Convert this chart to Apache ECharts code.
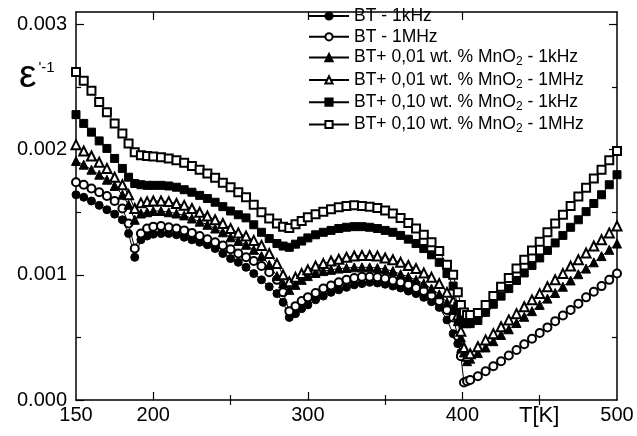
<!DOCTYPE html>
<html>
<head>
<meta charset="utf-8">
<script src="https://cdn.jsdelivr.net/npm/echarts@6/dist/echarts.min.js"></script>
<style>
  html, body { margin: 0; padding: 0; background: #fff; }
  #chart { width: 637px; height: 436px; }
</style>
</head>
<body>
<div id="chart"></div>
<script>
// temperature, K
const temps = [150,155,160,165,170,175,180,184,188,192,196,
  200,205,210,215,220,225,230,235,240,245,
  250,255,260,265,270,275,280,284,288,292,296,
  300,305,310,315,320,325,330,335,340,345,
  350,355,360,365,370,375,380,385,390,394,397,399,401,403,
  405,410,415,420,425,430,435,440,445,450,
  455,460,465,470,475,480,485,490,495,500];

// inverse permittivity, in units of 1e-3
const bt1k = [1.64,1.62,1.59,1.555,1.52,1.485,1.44,1.33,1.14,1.28,1.31,
  1.325,1.33,1.33,1.32,1.30,1.28,1.26,1.24,1.21,1.17,
  1.13,1.10,1.06,1.01,0.96,0.905,0.85,0.78,0.66,0.69,0.73,
  0.76,0.80,0.83,0.86,0.88,0.90,0.92,0.93,0.94,0.935,
  0.925,0.91,0.895,0.87,0.85,0.82,0.785,0.74,0.64,0.53,0.45,0.38,null,null,
  null,null,null,null,null,null,null,null,null,null,
  null,null,null,null,null,null,null,null,null,null];

const bt1M = [1.74,1.72,1.69,1.66,1.63,1.59,1.53,1.41,1.21,1.33,1.37,
  1.385,1.39,1.38,1.37,1.355,1.335,1.31,1.285,1.26,1.235,
  1.205,1.17,1.14,1.11,1.07,1.02,0.96,0.86,0.71,0.75,0.79,
  0.82,0.855,0.89,0.915,0.94,0.96,0.975,0.985,0.985,0.98,
  0.97,0.955,0.94,0.92,0.895,0.87,0.835,0.79,0.72,0.66,0.51,0.35,0.14,0.15,
  0.16,0.19,0.23,0.27,0.31,0.355,0.40,0.445,0.49,0.535,
  0.58,0.63,0.675,0.72,0.77,0.82,0.865,0.91,0.96,1.01];

const mn001_1k = [1.91,1.88,1.84,1.80,1.76,1.71,1.64,1.56,1.44,1.49,1.50,
  1.51,1.51,1.50,1.49,1.475,1.45,1.425,1.40,1.37,1.34,
  1.30,1.27,1.24,1.20,1.15,1.08,0.99,0.93,0.88,0.92,0.96,
  0.99,1.015,1.03,1.04,1.05,1.055,1.06,1.06,1.06,1.055,
  1.045,1.03,1.005,0.985,0.96,0.93,0.89,0.845,0.78,0.72,0.63,0.50,0.38,0.31,
  0.33,0.375,0.42,0.47,0.52,0.565,0.615,0.665,0.71,0.76,
  0.81,0.855,0.905,0.955,1.005,1.05,1.10,1.15,1.20,1.25];

const mn001_1M = [2.04,1.99,1.95,1.90,1.85,1.78,1.72,1.64,1.53,1.575,1.585,
  1.59,1.59,1.585,1.57,1.555,1.53,1.50,1.47,1.44,1.41,
  1.37,1.335,1.31,1.275,1.235,1.17,1.09,1.00,0.945,0.98,1.01,
  1.04,1.07,1.09,1.11,1.125,1.14,1.15,1.155,1.155,1.15,
  1.135,1.12,1.10,1.075,1.05,1.015,0.98,0.93,0.86,0.79,0.68,0.55,0.42,0.35,
  0.37,0.425,0.48,0.53,0.585,0.64,0.69,0.745,0.80,0.85,
  0.905,0.96,1.01,1.07,1.12,1.175,1.23,1.28,1.335,1.39];

const mn010_1k = [2.28,2.21,2.14,2.07,2.01,1.93,1.85,1.78,1.73,1.72,1.715,
  1.715,1.715,1.71,1.70,1.68,1.66,1.635,1.61,1.58,1.545,
  1.51,1.48,1.455,1.40,1.34,1.29,1.25,1.23,1.22,1.245,1.27,
  1.295,1.32,1.34,1.355,1.37,1.38,1.385,1.385,1.38,1.37,
  1.355,1.34,1.315,1.285,1.25,1.21,1.16,1.10,1.01,0.91,0.75,0.66,0.61,0.61,
  0.61,0.635,0.70,0.765,0.83,0.89,0.955,1.015,1.075,1.135,
  1.195,1.255,1.315,1.38,1.44,1.505,1.57,1.64,1.72,1.80];

const mn010_1M = [2.62,2.55,2.47,2.38,2.30,2.21,2.13,2.05,1.98,1.955,1.95,
  1.945,1.94,1.93,1.915,1.895,1.87,1.84,1.81,1.775,1.735,
  1.70,1.66,1.62,1.56,1.50,1.45,1.41,1.385,1.375,1.405,1.43,
  1.46,1.485,1.505,1.525,1.54,1.55,1.555,1.55,1.545,1.535,
  1.515,1.49,1.455,1.415,1.37,1.32,1.26,1.19,1.08,1.00,0.86,0.76,0.70,0.68,
  0.68,0.695,0.76,0.83,0.905,0.975,1.05,1.12,1.195,1.265,
  1.34,1.41,1.48,1.55,1.625,1.695,1.77,1.84,1.915,1.99];

const names = ['BT - 1kHz', 'BT - 1MHz',
  'BT+ 0,01 wt. % MnO2 - 1kHz', 'BT+ 0,01 wt. % MnO2 - 1MHz',
  'BT+ 0,10 wt. % MnO2 - 1kHz', 'BT+ 0,10 wt. % MnO2 - 1MHz'];
const values = [bt1k, bt1M, mn001_1k, mn001_1M, mn010_1k, mn010_1M];
const symbols = ['circle', 'emptyCircle', 'triangle', 'emptyTriangle', 'rect', 'emptyRect'];
const sizes = [8, 8, 9, 9, 8, 8];

const xLabels = [150, 200, 300, 400, 500];
const yLabels = [0, 1, 2, 3];

const font = 'Liberation Sans, Arial, sans-serif';

function pairs(arr) {
  const out = [];
  temps.forEach((t, i) => { if (arr[i] != null) out.push([t, arr[i]]); });
  return out;
}

const chart = echarts.init(document.getElementById('chart'));

const tickLine = { show: true, inside: true, lineStyle: { color: '#000', width: 1.2 } };

chart.setOption({
  animation: false,
  backgroundColor: '#fff',
  grid: { left: 76, right: 20, top: 12, bottom: 36 },
  legend: {
    orient: 'vertical',
    left: 303,
    top: 2,
    itemWidth: 40,
    itemHeight: 9,
    itemGap: 2.8,
    data: names,
    formatter: name => '{n|' + name.replace('MnO2', 'MnO}{s|2}{n|') + '}',
    textStyle: {
      color: '#000',
      fontFamily: font,
      rich: {
        n: { fontSize: 17.5, lineHeight: 21, fontFamily: font, color: '#000' },
        s: { fontSize: 12, lineHeight: 5, verticalAlign: 'bottom', fontFamily: font, color: '#000' }
      }
    }
  },
  xAxis: [
    {
      type: 'value', min: 150, max: 500, position: 'bottom',
      axisLine: { show: true, onZero: false, lineStyle: { color: '#000', width: 1.5 } },
      axisTick: Object.assign({ length: 8, customValues: [200, 300, 400] }, tickLine),
      axisLabel: { customValues: xLabels, color: '#000', fontSize: 20, fontFamily: font, margin: 5 },
      splitLine: { show: false }
    },
    {
      type: 'value', min: 150, max: 500, position: 'bottom',
      axisLine: { show: false },
      axisTick: Object.assign({ length: 5, customValues: [250, 350, 450] }, tickLine),
      axisLabel: { show: false },
      splitLine: { show: false }
    },
    {
      type: 'value', min: 150, max: 500, position: 'top',
      axisLine: { show: true, onZero: false, lineStyle: { color: '#000', width: 1.5 } },
      axisTick: Object.assign({ length: 8, customValues: [200, 300, 400] }, tickLine),
      axisLabel: { show: false },
      splitLine: { show: false }
    },
    {
      type: 'value', min: 150, max: 500, position: 'top',
      axisLine: { show: false },
      axisTick: Object.assign({ length: 5, customValues: [250, 350, 450] }, tickLine),
      axisLabel: { show: false },
      splitLine: { show: false }
    }
  ],
  yAxis: [
    {
      type: 'value', min: 0, max: 3.1, position: 'left',
      axisLine: { show: true, onZero: false, lineStyle: { color: '#000', width: 1.5 } },
      axisTick: Object.assign({ length: 8, customValues: yLabels }, tickLine),
      axisLabel: {
        customValues: yLabels, color: '#000', fontSize: 20, fontFamily: font, margin: 9,
        formatter: v => (v / 1000).toFixed(3)
      },
      splitLine: { show: false }
    },
    {
      type: 'value', min: 0, max: 3.1, position: 'left',
      axisLine: { show: false },
      axisTick: Object.assign({ length: 5, customValues: [0.5, 1.5, 2.5] }, tickLine),
      axisLabel: { show: false },
      splitLine: { show: false }
    },
    {
      type: 'value', min: 0, max: 3.1, position: 'right',
      axisLine: { show: true, onZero: false, lineStyle: { color: '#000', width: 1.5 } },
      axisTick: Object.assign({ length: 8, customValues: [1, 2, 3] }, tickLine),
      axisLabel: { show: false },
      splitLine: { show: false }
    },
    {
      type: 'value', min: 0, max: 3.1, position: 'right',
      axisLine: { show: false },
      axisTick: Object.assign({ length: 5, customValues: [0.5, 1.5, 2.5] }, tickLine),
      axisLabel: { show: false },
      splitLine: { show: false }
    }
  ],
  graphic: [
    {
      type: 'text', left: 19, top: 56,
      style: {
        text: '{e|ε}{s|\'-1}',
        rich: {
          e: { fontSize: 39, fontFamily: font, fill: '#000', lineHeight: 40 },
          s: { fontSize: 15, fontFamily: font, fill: '#000', verticalAlign: 'top', lineHeight: 15, padding: [4, 0, 0, 2] }
        }
      }
    },
    {
      type: 'text', left: 519, top: 405,
      style: { text: 'T[K]', fontSize: 22, fontFamily: font, fill: '#000' }
    }
  ],
  series: names.map((name, i) => ({
    name: name,
    type: 'line',
    data: pairs(values[i]),
    symbol: symbols[i],
    symbolSize: sizes[i],
    showAllSymbol: true,
    lineStyle: { color: '#000', width: 1 },
    itemStyle: { color: '#000', borderColor: '#000', borderWidth: 1 },
    emphasis: { disabled: true }
  }))
});
</script>
</body>
</html>
